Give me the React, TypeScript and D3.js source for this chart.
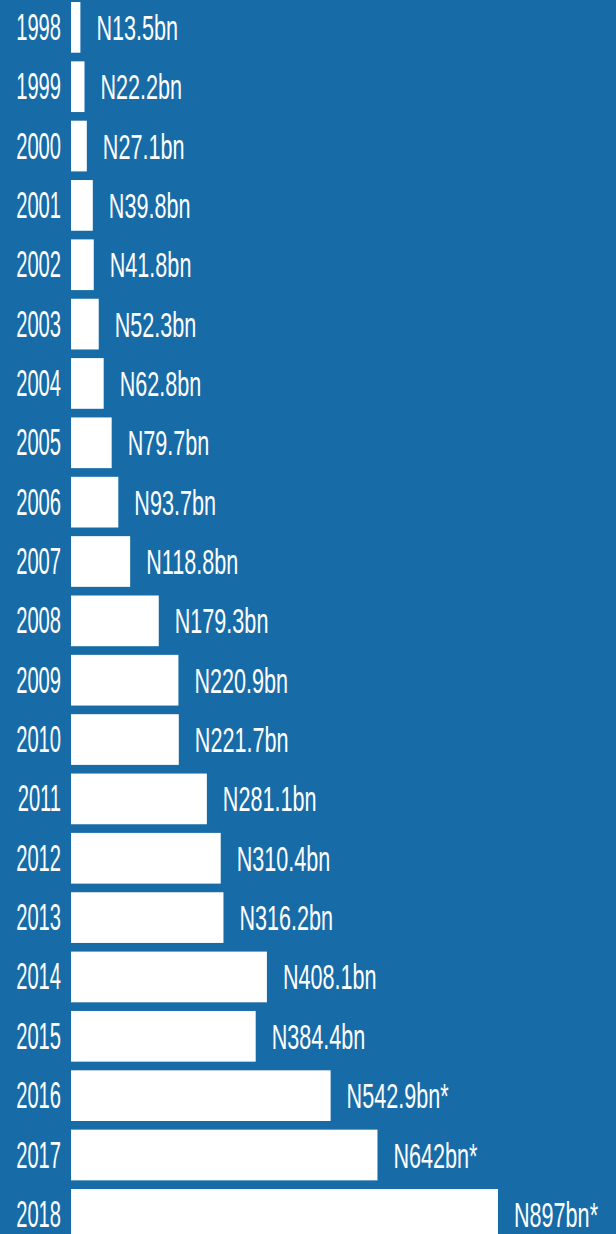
import { scaleBand, scaleLinear } from "d3"

const years = ["1998", "1999", "2000", "2001", "2002", "2003", "2004", "2005", "2006", "2007", "2008", "2009", "2010", "2011", "2012", "2013", "2014", "2015", "2016", "2017", "2018"]
const values = [13.5, 22.2, 27.1, 39.8, 41.8, 52.3, 62.8, 79.7, 93.7, 118.8, 179.3, 220.9, 221.7, 281.1, 310.4, 316.2, 408.1, 384.4, 542.9, 642, 897]
const labels = ["N13.5bn", "N22.2bn", "N27.1bn", "N39.8bn", "N41.8bn", "N52.3bn", "N62.8bn", "N79.7bn", "N93.7bn", "N118.8bn", "N179.3bn", "N220.9bn", "N221.7bn", "N281.1bn", "N310.4bn", "N316.2bn", "N408.1bn", "N384.4bn", "N542.9bn*", "N642bn*", "N897bn*"]

const App = () => {
    const width = 616
    const height = 1234
    const bg = "#176ca8"
    const barLeft = 71
    const minBar = 3
    const fs = 36

    const x = scaleLinear().domain([0, 897]).range([0, 424])
    // rows repeat every ~59.35px, bars ~50.7px tall
    const pitch = 59.35
    const barH = 50.7
    const y = scaleBand()
        .domain(years)
        .range([2, 2 + pitch * (years.length - 1) + barH])
        .paddingInner((pitch - barH) / pitch)
        .paddingOuter(0)
    const bh = y.bandwidth()

    const font = "'Liberation Sans Narrow', 'Liberation Sans', sans-serif"

    return (
        <svg width={width} height={height} style={{ position: "absolute", left: 0, top: 0, display: "block" }}>
            <rect width={width} height={height} fill={bg} />
            {years.map((yr, i) => {
                const top = y(yr)
                const w = minBar + x(values[i])
                const base = top + bh / 2 + 12.5
                const lx = barLeft + w + 16
                return (
                    <g key={yr}>
                        <rect x={barLeft} y={top} width={w} height={bh} fill="#fff" />
                        <text
                            transform={`translate(61,${base}) scale(0.56,1)`}
                            textAnchor="end"
                            fill="#fff"
                            fontFamily={font}
                            fontSize={fs}
                        >{yr}</text>
                        <text
                            transform={`translate(${lx},${base}) scale(0.6,1)`}
                            fill="#fff"
                            fontFamily={font}
                            fontSize={fs}
                        >{labels[i]}</text>
                    </g>
                )
            })}
        </svg>
    )
}

export default App
